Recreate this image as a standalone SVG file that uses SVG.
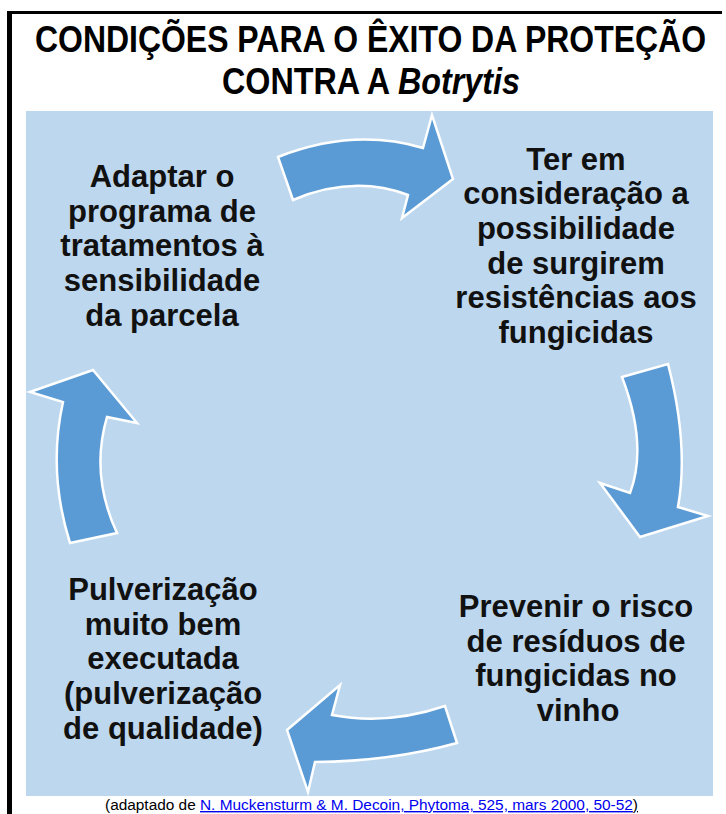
<svg xmlns="http://www.w3.org/2000/svg" width="726" height="814" viewBox="0 0 726 814">
<style>
.t{font-family:"Liberation Sans",Arial,sans-serif;font-weight:bold;font-size:31px;fill:#111;text-anchor:middle}
.title{font-family:"Liberation Sans",Arial,sans-serif;font-weight:bold;font-size:37px;fill:#000}
.arrow{fill:#5B9BD5;stroke:#fff;stroke-width:2.5;stroke-linejoin:miter}
.foot{font-family:"Liberation Sans",Arial,sans-serif;font-size:14px;fill:#000}
</style>
<rect x="0" y="0" width="726" height="814" fill="#fff"/>
<g id="frame">
<rect x="7" y="11" width="715" height="3" fill="#000"/>
<rect x="7" y="11" width="5" height="803" fill="#000"/>
</g>
<g id="title">
<text class="title" x="35" y="52" textLength="671" lengthAdjust="spacingAndGlyphs">CONDIÇÕES PARA O ÊXITO DA PROTEÇÃO</text>
<text class="title" x="222" y="94" textLength="298" lengthAdjust="spacingAndGlyphs">CONTRA A <tspan font-style="italic">Botrytis</tspan></text>
</g>
<rect id="background" x="26" y="111" width="687" height="685" fill="#BDD7EE"/>
<g id="connectors">
<path class="arrow" d="M278,157 Q353.5,127.5 423,148 L432,115 L453,179 L402,218 L408,195 Q353.5,174.5 293,200 Z"/>
<path class="arrow" d="M622,377 L668,364 Q689,444.5 678,507 L708,516 L640,537 L600,483 L630,493 Q648,445 622,377 Z"/>
<path class="arrow" d="M445,706 Q387.5,725.5 332,715 L340,685 L287,730 L308,792 L315,762 Q390,761.5 457,743 Z"/>
<path class="arrow" d="M70,543 Q47.5,471.5 63,402 L30,392 L93,370 L137,423 L107,417 Q90,475 117,533 Z"/>
</g>
<g id="node-adaptar">
<text class="t" x="162" y="187">Adaptar o</text>
<text class="t" x="162" y="222">programa de</text>
<text class="t" x="162" y="256">tratamentos à</text>
<text class="t" x="162" y="291">sensibilidade</text>
<text class="t" x="162" y="326">da parcela</text>
</g>
<g id="node-resistencias">
<text class="t" x="576" y="170">Ter em</text>
<text class="t" x="576" y="204">consideração a</text>
<text class="t" x="576" y="239">possibilidade</text>
<text class="t" x="576" y="274">de surgirem</text>
<text class="t" x="576" y="308">resistências aos</text>
<text class="t" x="576" y="343">fungicidas</text>
</g>
<g id="node-residuos">
<text class="t" x="576" y="617">Prevenir o risco</text>
<text class="t" x="576" y="652">de resíduos de</text>
<text class="t" x="576" y="686">fungicidas no</text>
<text class="t" x="578" y="721">vinho</text>
</g>
<g id="node-pulverizacao">
<text class="t" x="163" y="600">Pulverização</text>
<text class="t" x="163" y="635">muito bem</text>
<text class="t" x="163" y="669">executada</text>
<text class="t" x="163" y="704">(pulverização</text>
<text class="t" x="163" y="739">de qualidade)</text>
</g>
<g id="footer">
<text class="foot" x="105" y="810" textLength="533" lengthAdjust="spacingAndGlyphs">(adaptado de <tspan fill="#0000EE" text-decoration="underline">N. Muckensturm &amp; M. Decoin, Phytoma, 525, mars 2000, 50-52</tspan><tspan text-decoration="underline">)</tspan></text>
</g>
</svg>
